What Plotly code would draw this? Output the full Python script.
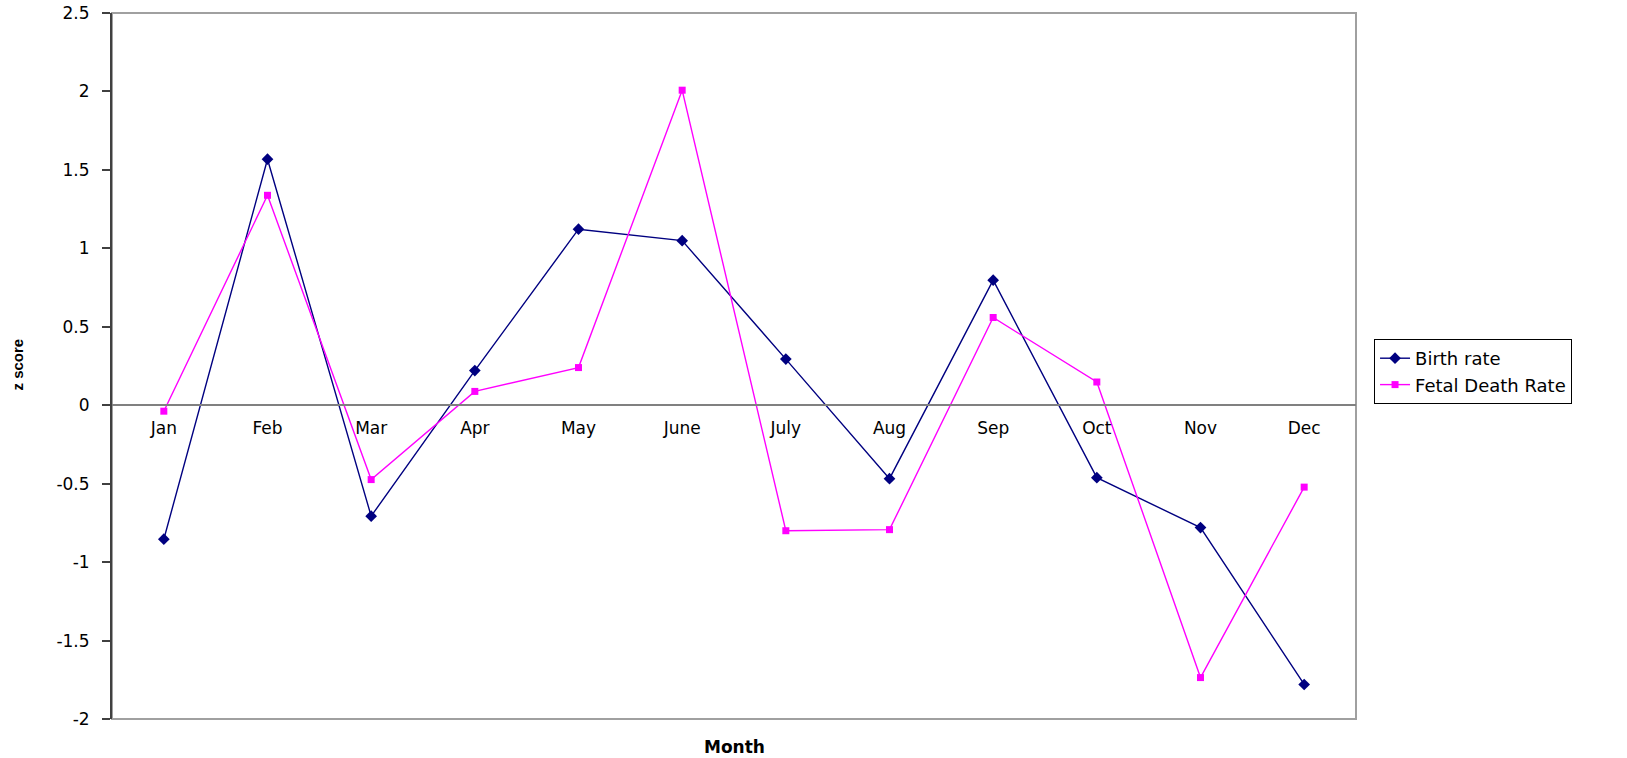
import plotly.graph_objects as go

months = ["Jan", "Feb", "Mar", "Apr", "May", "June", "July", "Aug", "Sep", "Oct", "Nov", "Dec"]
birth_rate = [-0.854, 1.568, -0.707, 0.221, 1.122, 1.049, 0.294, -0.468, 0.797, -0.462, -0.780, -1.780]
fetal_death_rate = [-0.038, 1.338, -0.474, 0.088, 0.240, 2.008, -0.800, -0.793, 0.559, 0.148, -1.736, -0.522]
y_ticks = [-2, -1.5, -1, -0.5, 0, 0.5, 1, 1.5, 2, 2.5]
y_tick_text = ["-2", "-1.5", "-1", "-0.5", "0", "0.5", "1", "1.5", "2", "2.5"]

FONT = "DejaVu Sans, Arial, sans-serif"
BFONT = "Liberation Sans, Arial, sans-serif"

fig = go.Figure()
fig.add_trace(go.Scatter(
    x=months, y=birth_rate, name="Birth rate", mode="lines+markers",
    line=dict(color="#000080", width=1.4),
    marker=dict(symbol="diamond", size=9, color="#000080"),
))
fig.add_trace(go.Scatter(
    x=months, y=fetal_death_rate, name="Fetal Death Rate", mode="lines+markers",
    line=dict(color="#FF00FF", width=1.4),
    marker=dict(symbol="square", size=7, color="#FF00FF"),
))

ymin, ymax = -2, 2.5
zero_pos = (0 - ymin) / (ymax - ymin)

fig.update_layout(
    width=1627, height=758,
    margin=dict(l=112, r=271, t=13, b=39, autoexpand=False),
    paper_bgcolor="white", plot_bgcolor="white",
    font=dict(family=FONT, size=17, color="black"),
    showlegend=True,
    legend=dict(
        x=1.0145, y=(719 - 339) / 706, xanchor="left", yanchor="top",
        bordercolor="black", borderwidth=1, bgcolor="white",
        font=dict(family=FONT, size=18),
        tracegroupgap=0,
    ),
    xaxis=dict(
        type="category", range=[-0.5, 11.5],
        anchor="free", position=zero_pos,
        showline=True, linecolor="#808080", linewidth=1.5,
        showgrid=False, zeroline=False, ticks="",
        tickfont=dict(family=FONT, size=17),
        ticklabelstandoff=8, automargin=False,
    ),
    yaxis=dict(
        range=[ymin, ymax], tickvals=y_ticks, ticktext=y_tick_text,
        showline=True, linecolor="#404040", linewidth=2,
        ticks="outside", ticklen=8, tickcolor="#404040", tickwidth=1.5,
        showgrid=False, zeroline=False, automargin=False,
        ticklabelstandoff=9,
        tickfont=dict(family=FONT, size=17),
    ),
    shapes=[
        dict(type="rect", xref="x domain", yref="y domain", x0=0, x1=1, y0=0, y1=1,
             line=dict(color="#a0a0a0", width=2), layer="below"),
    ],
    annotations=[
        dict(text="<b>Month</b>", xref="paper", yref="paper", x=0.5, y=-0.0397,
             xanchor="center", yanchor="middle", showarrow=False,
             font=dict(family=FONT, size=17)),
        dict(text="<b>z score</b>", xref="paper", yref="paper", x=-0.0756, y=0.502,
             xanchor="center", yanchor="middle", showarrow=False, textangle=-90,
             font=dict(family=BFONT, size=15)),
    ],
)

fig.write_html(
    "out.html",
    config={"displayModeBar": False},
    post_script="document.body.style.margin='0';document.body.style.overflow='hidden';",
)
